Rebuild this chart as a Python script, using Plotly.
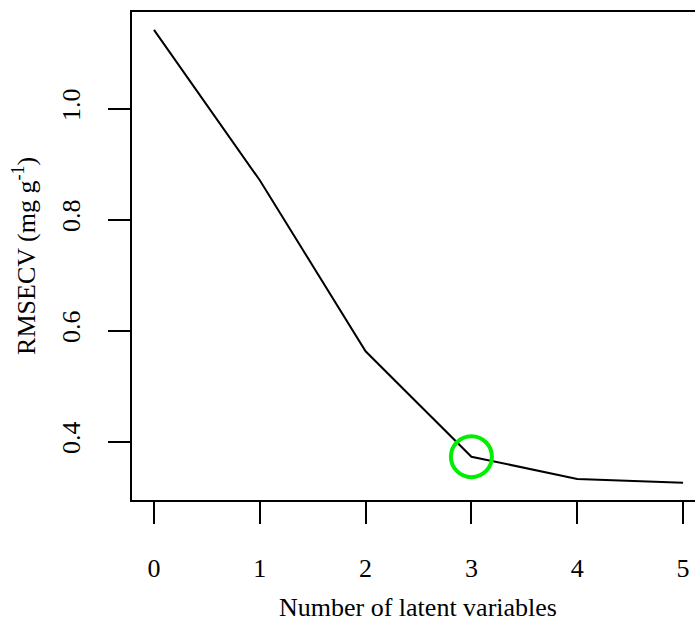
import plotly.graph_objects as go

# Cross-validation error against number of PLS latent variables
n_lv = [0, 1, 2, 3, 4, 5]
rmsecv = [1.142, 0.871, 0.563, 0.373, 0.333, 0.326]
selected_lv = 3

x_ticks = [0, 1, 2, 3, 4, 5]
y_ticks = [0.4, 0.6, 0.8, 1.0]
y_tick_text = ["0.4", "0.6", "0.8", "1.0"]

FONT = "Liberation Serif, Times New Roman, serif"
FS = 26

fig = go.Figure()

fig.add_trace(go.Scatter(
    x=n_lv, y=rmsecv, mode="lines",
    line=dict(color="black", width=2),
    showlegend=False, hoverinfo="skip",
))

# Highlight the chosen number of latent variables
fig.add_trace(go.Scatter(
    x=[selected_lv], y=[rmsecv[n_lv.index(selected_lv)]], mode="markers",
    marker=dict(symbol="circle-open", size=41, color="#00EE00",
                line=dict(color="#00EE00", width=4)),
    showlegend=False, hoverinfo="skip",
))

fig.update_xaxes(
    range=[-0.2077, 5.113],
    tickvals=x_ticks,
    ticks="outside", ticklen=22, tickwidth=2, tickcolor="black",
    showline=True, linecolor="black", linewidth=2, mirror=True,
    showgrid=False, zeroline=False,
    tickfont=dict(family=FONT, size=FS, color="black"),
    ticklabelstandoff=22,
)
fig.update_yaxes(
    range=[0.295, 1.1742],
    tickvals=y_ticks, ticktext=y_tick_text,
    tickangle=-90,
    ticks="outside", ticklen=22, tickwidth=2, tickcolor="black",
    showline=True, linecolor="black", linewidth=2,
    showgrid=False, zeroline=False,
    tickfont=dict(family=FONT, size=FS, color="black"),
    ticklabelstandoff=18,
)

fig.add_annotation(
    text="Number of latent variables",
    xref="paper", yref="paper", x=0.508, y=-0.221,
    xanchor="center", yanchor="middle", showarrow=False,
    font=dict(family=FONT, size=FS, color="black"),
)
fig.add_annotation(
    text="RMSECV (mg g<sup>-1</sup>)",
    xref="paper", yref="paper", x=-0.192, y=0.500,
    xanchor="center", yanchor="middle", showarrow=False, textangle=-90,
    font=dict(family=FONT, size=FS, color="black"),
)

fig.update_layout(
    width=695, height=622,
    margin=dict(l=132, r=0, t=12, b=122, autoexpand=False),
    paper_bgcolor="white", plot_bgcolor="white",
)

fig.write_html("out.html")
